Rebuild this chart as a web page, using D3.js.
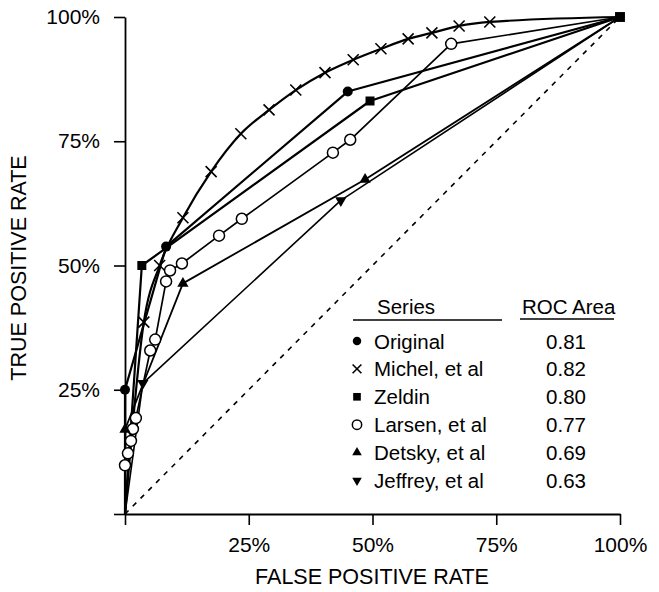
<!DOCTYPE html>
<html>
<head>
<meta charset="utf-8">
<script src="https://cdn.jsdelivr.net/npm/d3@7"></script>
<style>
  html, body { margin: 0; padding: 0; background: #fff; }
  text { font-family: "Liberation Sans", Arial, Helvetica, sans-serif; fill: #000; }
</style>
</head>
<body>
<script>
// ---------- data ----------
const xTickValues = [0, 0.25, 0.5, 0.75, 1];
const xTickLabels = ["", "25%", "50%", "75%", "100%"];
const yTickValues = [0, 0.25, 0.5, 0.75, 1];
const yTickLabels = ["", "25%", "50%", "75%", "100%"];

const seriesNames = ["Original", "Michel, et al", "Zeldin", "Larsen, et al", "Detsky, et al", "Jeffrey, et al"];
const rocAreas = ["0.81", "0.82", "0.80", "0.77", "0.69", "0.63"];
const markerTypes = ["dot", "cross", "square", "ring", "up", "down"];

// [false positive rate, true positive rate]
const originalPts = [[0,0],[0,0.25],[0.083,0.538],[0.45,0.85],[1,1]];
const michelPts = [[0,0],[0.038,0.386],[0.07,0.50],[0.117,0.596],[0.174,0.689],[0.234,0.765],[0.291,0.813],[0.345,0.853],[0.404,0.888],[0.461,0.914],[0.517,0.936],[0.572,0.956],[0.62,0.968],[0.675,0.982],[0.737,0.99],[1,1]];
const zeldinPts = [[0,0],[0.034,0.5],[0.495,0.831],[1,1]];
const larsenPts = [[0,0],[0,0.098],[0.006,0.122],[0.012,0.147],[0.016,0.171],[0.022,0.193],[0.051,0.329],[0.061,0.351],[0.083,0.468],[0.091,0.49],[0.115,0.504],[0.19,0.56],[0.236,0.594],[0.42,0.727],[0.455,0.753],[0.659,0.946],[1,1]];
const detskyPts = [[0,0],[0,0.17],[0.117,0.464],[0.485,0.673],[1,1]];
const jeffreyPts = [[0,0],[0.036,0.263],[0.436,0.631],[1,1]];

const seriesPts = [originalPts, michelPts, zeldinPts, larsenPts, detskyPts, jeffreyPts];
const seriesSmooth = [false, true, false, false, false, false];
const seriesWidth = [2.2, 2.2, 2.2, 1.7, 1.8, 1.6];

// ---------- layout ----------
const W = 659, H = 592;
const x = d3.scaleLinear().domain([0, 1]).range([125, 620]);
const y = d3.scaleLinear().domain([0, 1]).range([514, 17]);

const svg = d3.select("body").append("svg").attr("width", W).attr("height", H);

// diagonal reference
svg.append("line")
  .attr("x1", x(0)).attr("y1", y(0)).attr("x2", x(1)).attr("y2", y(1))
  .attr("stroke", "#000").attr("stroke-width", 1.6).attr("stroke-dasharray", "5,6");

// axes
const xAxis = d3.axisBottom(x).tickValues(xTickValues)
  .tickFormat((d, i) => xTickLabels[i]).tickSizeInner(11).tickSizeOuter(0).tickPadding(12);
const yAxis = d3.axisLeft(y).tickValues(yTickValues)
  .tickFormat((d, i) => yTickLabels[i]).tickSizeInner(11).tickSizeOuter(0).tickPadding(14);

const gx = svg.append("g").attr("transform", `translate(0,${y(0)})`).call(xAxis);
const gy = svg.append("g").attr("transform", `translate(${x(0)},0)`).call(yAxis);
[gx, gy].forEach(g => {
  g.select(".domain").attr("stroke", "#000").attr("stroke-width", 1.8);
  g.selectAll(".tick line").attr("stroke", "#000").attr("stroke-width", 1.6);
  g.selectAll(".tick text").attr("font-size", 21).attr("fill", "#000")
    .attr("font-family", "Liberation Sans, Arial, sans-serif");
});

// axis titles
svg.append("text").attr("x", 372).attr("y", 584).attr("text-anchor", "middle")
  .attr("font-size", 21.5).text("FALSE POSITIVE RATE");
svg.append("text").attr("transform", "translate(26,268) rotate(-90)")
  .attr("text-anchor", "middle").attr("font-size", 21.5).text("TRUE POSITIVE RATE");

// markers
function drawMarker(g, type, cx, cy, s) {
  if (type === "dot") {
    g.append("circle").attr("cx", cx).attr("cy", cy).attr("r", s * 0.5).attr("fill", "#000");
  } else if (type === "ring") {
    g.append("circle").attr("cx", cx).attr("cy", cy).attr("r", s * 0.55)
      .attr("fill", "#fff").attr("stroke", "#000").attr("stroke-width", 1.5);
  } else if (type === "square") {
    g.append("rect").attr("x", cx - s * 0.45).attr("y", cy - s * 0.45)
      .attr("width", s * 0.9).attr("height", s * 0.9).attr("fill", "#000");
  } else if (type === "cross") {
    const a = s * 0.55;
    g.append("path").attr("d", `M${cx - a},${cy - a}L${cx + a},${cy + a}M${cx - a},${cy + a}L${cx + a},${cy - a}`)
      .attr("stroke", "#000").attr("stroke-width", 1.6).attr("fill", "none");
  } else if (type === "up" || type === "down") {
    const sym = d3.symbol().type(d3.symbolTriangle).size(s * s * 0.55);
    g.append("path").attr("d", sym())
      .attr("transform", `translate(${cx},${cy})${type === "down" ? " rotate(180)" : ""}`)
      .attr("fill", "#000");
  }
}

// series lines
const plot = svg.append("g");
seriesPts.forEach((pts, i) => {
  const line = d3.line().x(d => x(d[0])).y(d => y(d[1]))
    .curve(seriesSmooth[i] ? d3.curveMonotoneX : d3.curveLinear);
  plot.append("path").datum(pts).attr("d", line)
    .attr("fill", "none").attr("stroke", "#000").attr("stroke-width", seriesWidth[i])
    .attr("stroke-linejoin", "round");
});
// series markers (skip shared end points, except Zeldin's square at the top)
seriesPts.forEach((pts, i) => {
  const g = plot.append("g");
  pts.forEach((d, j) => {
    const isOrigin = d[0] === 0 && d[1] === 0;
    const isTop = d[0] === 1 && d[1] === 1;
    if (isOrigin) return;
    if (isTop && markerTypes[i] !== "square") return;
    const size = markerTypes[i] === "ring" ? 10 : (markerTypes[i] === "cross" ? 10 : 10);
    drawMarker(g, markerTypes[i], x(d[0]), y(d[1]), isTop ? 11 : size);
  });
});

// legend
const lg = svg.append("g");
lg.append("text").attr("x", 377).attr("y", 314).attr("font-size", 20.5).text("Series");
lg.append("text").attr("x", 522).attr("y", 314).attr("font-size", 20.5).text("ROC Area");
lg.append("line").attr("x1", 353).attr("x2", 502).attr("y1", 320).attr("y2", 320)
  .attr("stroke", "#000").attr("stroke-width", 1.5);
lg.append("line").attr("x1", 520).attr("x2", 614).attr("y1", 319).attr("y2", 319)
  .attr("stroke", "#000").attr("stroke-width", 1.5);
seriesNames.forEach((name, i) => {
  const cy = 341 + i * 27.9;
  drawMarker(lg, markerTypes[i], 357, cy, markerTypes[i] === "cross" ? 8 : 8.5);
  lg.append("text").attr("x", 374).attr("y", cy + 7.5).attr("font-size", 20.5).text(name);
  lg.append("text").attr("x", 566).attr("y", cy + 7.5).attr("font-size", 20.5)
    .attr("text-anchor", "middle").text(rocAreas[i]);
});
</script>
</body>
</html>
